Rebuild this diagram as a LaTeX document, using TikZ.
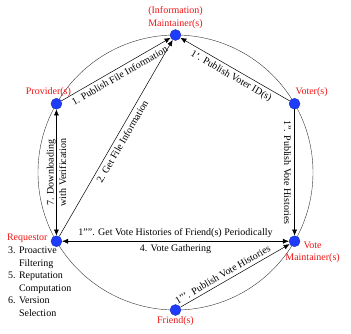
\documentclass[tikz,border=0pt]{standalone}
\usepackage{fontspec}
\setmainfont{Liberation Serif}
\usepackage{xcolor}
\usepackage{tikz}
\usetikzlibrary{arrows.meta,positioning,calc}
\definecolor{peerblue}{RGB}{30, 60, 250}
\definecolor{rolered}{RGB}{240, 20, 20}

\begin{document}
\begin{tikzpicture}[x=1pt, y=1pt, >={Latex[length=6pt,width=5pt]},
    every node/.style={font=\fontsize{10}{12.5}\selectfont},
    peer/.style={circle, fill=peerblue, draw=peerblue!70!black, line width=0.3pt, minimum size=11pt, inner sep=0pt},
    role/.style={text=rolered, align=center, inner sep=1pt},
    flow/.style={line width=0.5pt}]
    \useasboundingbox (-175.5, -160.5) rectangle (175.5, 172.5);

    % Ring
    \coordinate (ctr) at (0, 0);
    \draw[line width=0.4pt, black!80] (ctr) circle (137.5pt);

    % Peers
    \node[peer, label={[role]above:(Information)\\Maintainer(s)}] (maint) at (90:137.5) {};
    \node[peer, label={[role, xshift=-8pt]above:Provider(s)}] (prov) at (150:137.5) {};
    \node[peer, label={[role, xshift=17pt]above:Voter(s)}] (voter) at (30:137.5) {};
    \node[peer, label={[role, yshift=3pt, xshift=-2pt, inner sep=1pt]left:Requestor}] (req) at (210:137.5) {};
    \node[peer, label={[role, xshift=18pt, yshift=-11pt]center:Vote\\Maintainer(s)}] (vmaint) at (330:137.5) {};
    \node[peer, label={[role]below:Friend(s)}] (friend) at (270:137.5) {};

    % Requestor tasks
    \node[align=left, anchor=north west, inner sep=0pt] (tasks) at (-167.5, -74.5) {
        3. Proactive\\
        \hphantom{3. }Filtering\\
        5. Reputation\\
        \hphantom{3. }Computation\\
        6. Version\\
        \hphantom{6. }Selection
    };

    % Flows
    \draw[->, flow] (prov) -- node[sloped, below] {1. Publish File Information} (maint);
    \draw[<-, flow] (maint) -- node[sloped, below] {1'. Publish Voter ID(s)} (voter);
    \draw[->, flow] (req) -- node[sloped, below] {2. Get File Information} (maint);
    \draw[<->, flow] (req) -- node[rotate=90, align=center] {7. Downloading\\with Verification} (prov);
    \draw[->, flow] (voter) -- node[rotate=-90, anchor=north] {1''. Publish Vote Histories} (vmaint);
    \draw[<->, flow] (req) -- node[above] {1''''. Get Vote Histories of Friend(s) Periodically}
        node[below] {4. Vote Gathering} (vmaint);
    \draw[->, flow] (friend) -- node[sloped, above, pos=0.42] {1'''. Publish Vote Histories} (vmaint);
\end{tikzpicture}
\end{document}
